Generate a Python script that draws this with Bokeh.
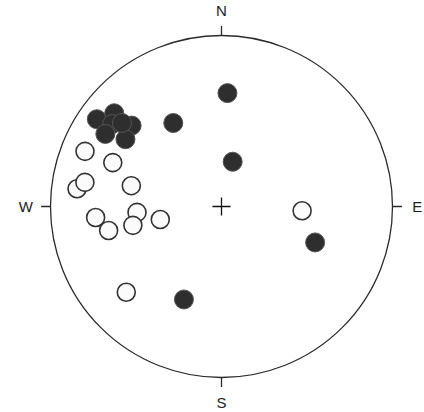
import numpy as np
from bokeh.plotting import figure
from bokeh.models import ColumnDataSource, Range1d
from bokeh.core.properties import value
from bokeh.embed import file_html
from bokeh.resources import INLINE

# Lineations (trend, plunge in degrees), lower-hemisphere equal-area net
filled_trend = [3, 330, 14, 111, 202, 305, 311, 312, 307, 302, 305, 310]
filled_plunge = [34, 43, 68, 41, 41, 12, 18, 30, 21, 21, 32, 25]

open_trend = [93, 258, 292, 292, 277, 280, 283, 265, 258, 266, 258, 228]
open_plunge = [51, 60, 15, 32, 16, 20, 45, 27, 33, 49, 46, 26]

directions = ["N", "E", "S", "W"]
direction_azimuths = [0, 90, 180, 270]


def schmidt(trend, plunge):
    """Equal-area (Schmidt) projection onto the unit primitive circle."""
    t = np.radians(np.asarray(trend, dtype=float))
    theta = np.radians(90.0 - np.asarray(plunge, dtype=float))
    r = np.sqrt(2.0) * np.sin(theta / 2.0)
    return r * np.sin(t), r * np.cos(t)


W, H = 424, 412
scale = 171.0           # pixels per unit radius
cx, cy = 221.0, 206.0   # net centre in pixels

p = figure(width=W, height=H, output_backend="svg", toolbar_location=None,
           x_range=Range1d(-cx / scale, (W - cx) / scale),
           y_range=Range1d(-(H - cy) / scale, cy / scale),
           min_border=0, background_fill_color="white",
           border_fill_color="white")
p.axis.visible = False
p.grid.visible = False
p.outline_line_color = None

ink = "#2b2b2b"

# primitive circle
p.circle(x=[0], y=[0], radius=1.0, fill_color=None, line_color=ink,
         line_width=1.3)

# cardinal ticks and labels
az = np.radians(direction_azimuths)
sx, sy = np.sin(az), np.cos(az)
p.segment(x0=sx * 1.0, y0=sy * 1.0, x1=sx * 1.055, y1=sy * 1.055,
          line_color=ink, line_width=1.3)
p.text(x=sx * 1.145, y=sy * 1.145, text=directions,
       text_font=value("Liberation Sans"), text_font_size="15px",
       text_align="center", text_baseline="middle", text_color="#222222")

# centre cross
arm = 0.053
p.segment(x0=[-arm, 0], y0=[0, -arm], x1=[arm, 0], y1=[0, arm],
          line_color="#111111", line_width=1.3)

ox, oy = schmidt(open_trend, open_plunge)
fx, fy = schmidt(filled_trend, filled_plunge)

p.scatter(x=ox, y=oy, size=18, marker="circle", fill_color="#fbfbfb",
          line_color="#333333", line_width=1.6)
p.scatter(x=fx, y=fy, size=19, marker="circle", fill_color="#2e2e2e",
          line_color="#555555", line_width=1.0)

open("out.html", "w").write(file_html(p, INLINE))
